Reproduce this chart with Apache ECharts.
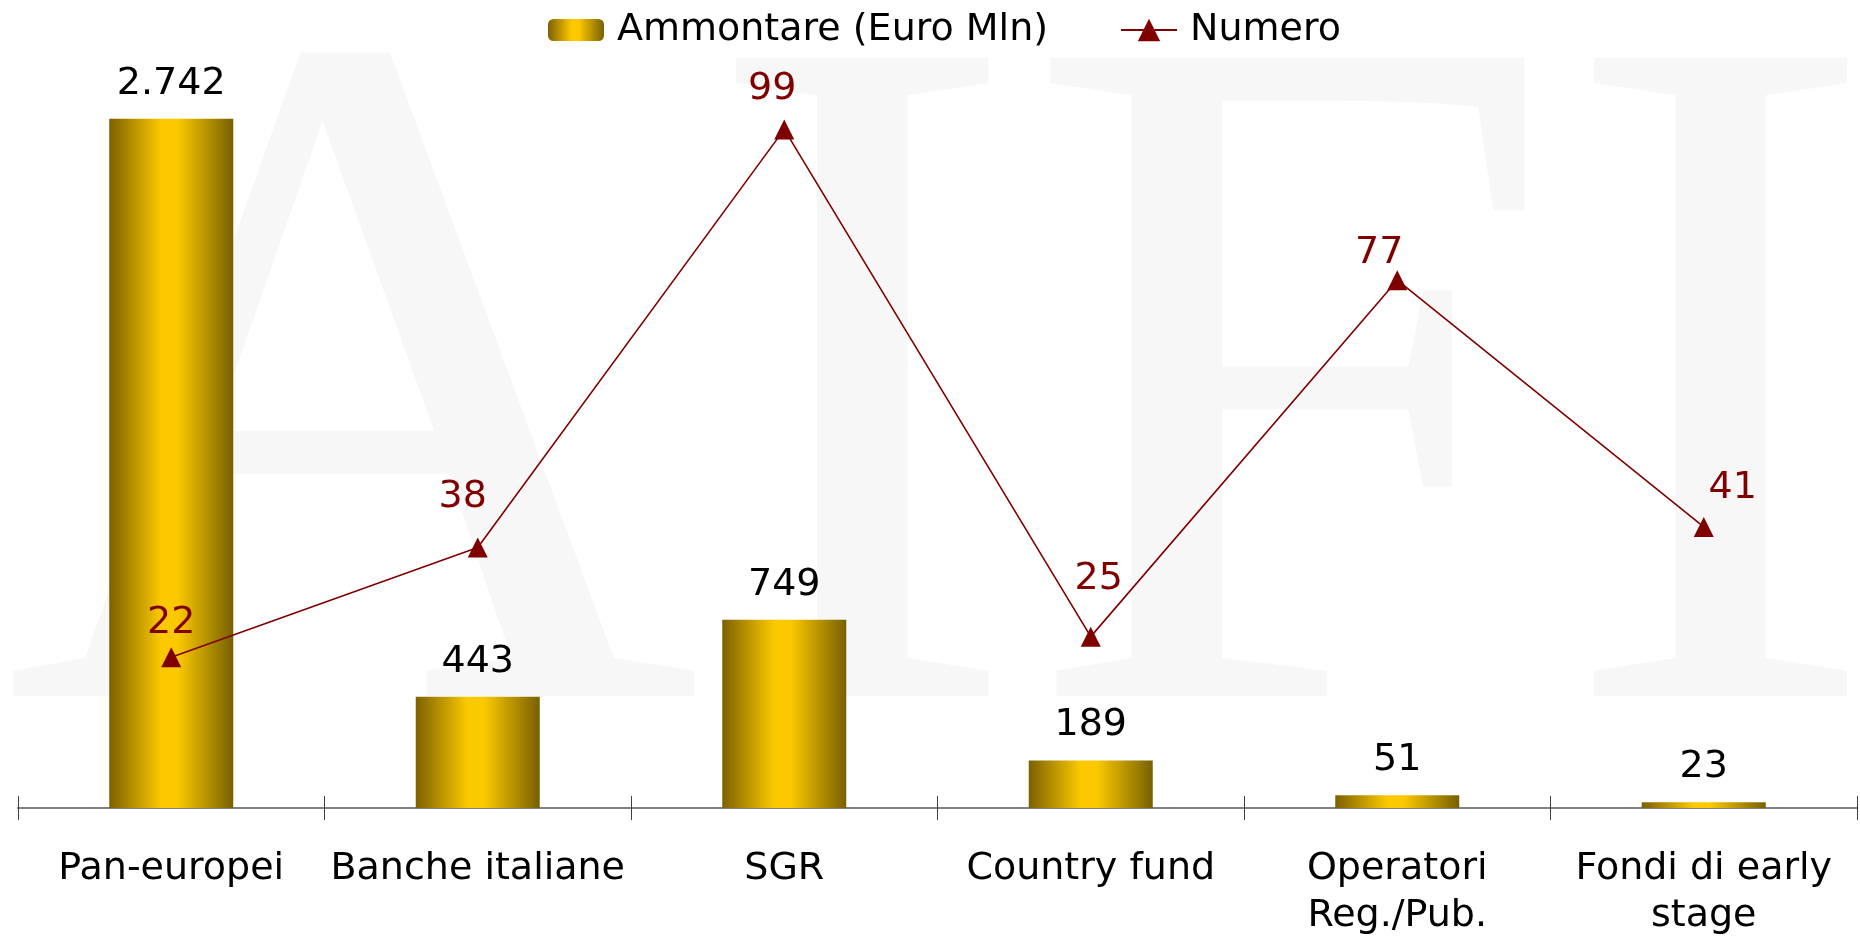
<!DOCTYPE html>
<html>
<head>
<meta charset="utf-8">
<script src="https://cdn.jsdelivr.net/npm/echarts@6/dist/echarts.min.js"></script>
<style>
    html, body { margin: 0; padding: 0; background: #fff; }
    #chart { width: 1860px; height: 936px; }
</style>
</head>
<body>
<div id="chart"></div>
<script>
    // dati
    var categories = ['Pan-europei', 'Banche italiane', 'SGR', 'Country fund', 'Operatori\nReg./Pub.', 'Fondi di early\nstage'];
    var ammontare = [2742, 443, 749, 189, 51, 23];
    var numero = [22, 38, 99, 25, 77, 41];
    var seriesNames = ['Ammontare (Euro Mln)', 'Numero'];

    // spostamento etichette della linea (come nell'originale)
    var numLabelOffsets = [[0, 0], [-15, -16], [-12, -6], [8, -24], [-18, 7], [29, -5]];

    var FONT = '"DejaVu Sans", Verdana, sans-serif';
    var FS = 38;
    var DARK_RED = '#800000';

    var goldGradient = new echarts.graphic.LinearGradient(0, 0, 1, 0, [
        { offset: 0, color: '#7c6100' },
        { offset: 0.42, color: '#fcc900' },
        { offset: 0.55, color: '#fcc900' },
        { offset: 1, color: '#776000' }
    ]);

    function itFormat(v) {
        return String(v).replace(/\B(?=(\d{3})+(?!\d))/g, '.');
    }

    var legendText = { fontSize: FS, color: '#000', fontFamily: FONT, padding: [0, 0, 0, 8] };

    var option = {
        animation: false,
        backgroundColor: '#fff',
        textStyle: { fontFamily: FONT },
        graphic: [{
            type: 'text',
            z: -10,
            silent: true,
            scaleX: 0.99,
            style: {
                text: 'AIFI',
                x: 4,
                y: 440,
                font: '975px "Liberation Serif", "Times New Roman", serif',
                fill: '#f7f7f7',
                align: 'left',
                verticalAlign: 'middle'
            }
        }],
        legend: [{
            top: 6,
            left: 543,
            itemWidth: 56,
            itemHeight: 22,
            textStyle: legendText,
            data: [seriesNames[0]]
        }, {
            top: 6,
            left: 1115,
            itemWidth: 56,
            itemHeight: 28,
            textStyle: legendText,
            data: [seriesNames[1]]
        }],
        grid: {
            left: 18,
            right: 3,
            top: 54,
            bottom: 128,
            containLabel: false,
            outerBoundsMode: 'none'
        },
        xAxis: [{
            type: 'category',
            data: categories,
            axisLine: { lineStyle: { color: '#808080', width: 2 } },
            axisTick: { show: true, length: 12, lineStyle: { color: '#404040', width: 1 } },
            axisLabel: {
                color: '#000',
                fontSize: FS,
                lineHeight: 47,
                margin: 38,
                interval: 0,
                fontFamily: FONT
            }
        }, {
            // secondo asse solo per i tick che attraversano la linea
            type: 'category',
            data: categories,
            position: 'bottom',
            axisLine: { show: false },
            axisTick: { show: true, inside: true, length: 12, lineStyle: { color: '#404040', width: 1 } },
            axisLabel: { show: false }
        }],
        yAxis: [{
            type: 'value',
            min: 0,
            max: 3000,
            show: false,
            splitLine: { show: false }
        }, {
            type: 'value',
            min: 0,
            max: 110,
            show: false,
            splitLine: { show: false }
        }],
        series: [{
            name: seriesNames[0],
            type: 'bar',
            xAxisIndex: 0,
            yAxisIndex: 0,
            barWidth: 124,
            data: ammontare,
            itemStyle: { color: goldGradient },
            label: {
                show: true,
                position: 'top',
                distance: 16,
                color: '#000',
                fontSize: FS,
                fontFamily: FONT,
                formatter: function (p) { return itFormat(p.value); }
            },
            z: 2
        }, {
            name: seriesNames[1],
            type: 'line',
            xAxisIndex: 0,
            yAxisIndex: 1,
            symbol: 'triangle',
            symbolSize: 20,
            data: numero.map(function (v, i) {
                return { value: v, label: { offset: numLabelOffsets[i] } };
            }),
            lineStyle: { color: DARK_RED, width: 1.6 },
            itemStyle: { color: DARK_RED },
            label: {
                show: true,
                position: 'top',
                distance: 5,
                color: DARK_RED,
                fontSize: FS,
                fontFamily: FONT
            },
            z: 3
        }]
    };

    var chart = echarts.init(document.getElementById('chart'));
    chart.setOption(option);
</script>
</body>
</html>
